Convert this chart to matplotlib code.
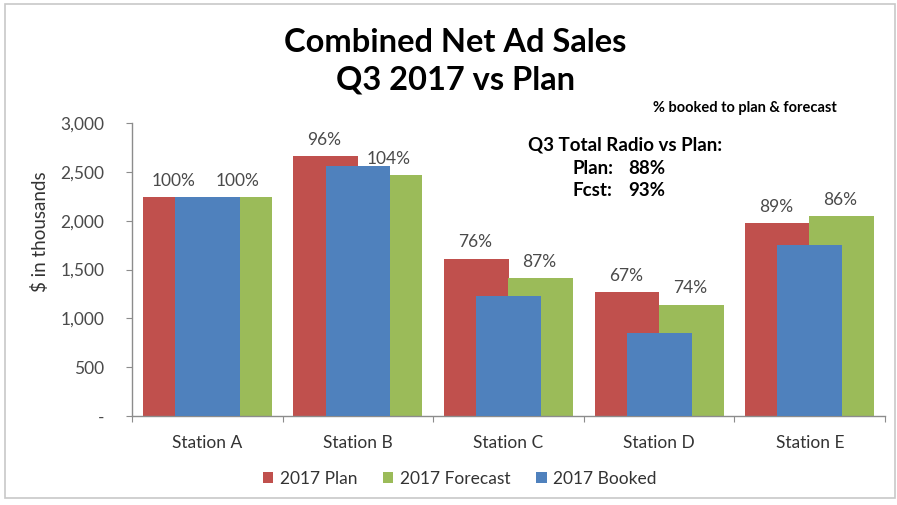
import matplotlib.pyplot as plt
import numpy as np
from matplotlib.patches import Rectangle
from matplotlib.ticker import FuncFormatter

plt.rcParams['font.family'] = ['Lato', 'DejaVu Sans']

# Q3 2017 net ad sales, $ in thousands
stations = ["Station A", "Station B", "Station C", "Station D", "Station E"]
plan = [2240, 2660, 1610, 1265, 1975]
forecast = [2240, 2465, 1410, 1140, 2045]
booked = [2240, 2555, 1225, 848, 1755]

total_plan_pct = 88
total_fcst_pct = 93

RED = "#C0504D"
GREEN = "#9BBB59"
BLUE = "#4F81BD"
AXIS_GRAY = "#8C8C8C"
TEXT_GRAY = "#4A4A4A"

fig = plt.figure(figsize=(8.97, 5.05), dpi=100)
ax = fig.add_axes([0.1472, 0.1762, 0.8395, 0.5802])

x = np.arange(len(stations))
OFFSET = 0.213
WIDTH = 0.43

plan_bars = ax.bar(x - OFFSET, plan, WIDTH, color=RED, label="2017 Plan", zorder=2)
fcst_bars = ax.bar(x + OFFSET, forecast, WIDTH, color=GREEN, label="2017 Forecast", zorder=2)
booked_bars = ax.bar(x, booked, WIDTH, color=BLUE, label="2017 Booked", zorder=3)

# booked as a share of plan (over red bars) and of forecast (over green bars)
for bars, ref in ((plan_bars, plan), (fcst_bars, forecast)):
    for rect, r, b in zip(bars, ref, booked):
        pct = round(100 * b / r)
        ax.annotate(f"{pct}%", (rect.get_x() + rect.get_width() / 2, rect.get_height()),
                    xytext=(-1, 6), textcoords="offset points", ha="center", va="bottom",
                    fontsize=12.5, color=TEXT_GRAY, zorder=4)

ax.set_xlim(-0.5, len(stations) - 0.5)
ax.set_ylim(0, 3000)
ax.set_yticks(np.arange(0, 3001, 500))
ax.yaxis.set_major_formatter(FuncFormatter(lambda v, _: "-" if v == 0 else f"{int(v):,}"))

# category boundaries get the tick marks, centres get the names
ax.set_xticks(np.arange(-0.5, len(stations), 1))
ax.set_xticklabels([])
ax.set_xticks(x, minor=True)
ax.set_xticklabels(stations, minor=True)
ax.tick_params(axis="x", which="minor", length=0, pad=14, labelsize=12.5, labelcolor="#333333")
ax.tick_params(axis="x", which="major", length=4, direction="out", color=AXIS_GRAY)
ax.tick_params(axis="y", length=4, direction="out", color=AXIS_GRAY, pad=16,
               labelsize=12.5, labelcolor=TEXT_GRAY)

for side in ("top", "right"):
    ax.spines[side].set_visible(False)
for side in ("left", "bottom"):
    ax.spines[side].set_color(AXIS_GRAY)
    ax.spines[side].set_linewidth(1)

fig.text(40 / 897, 1 - 232 / 505, "$ in thousands", rotation=90, ha="center", va="center",
         fontsize=13.5, color="#333333")

fig.text(0.5078, 1 - 52 / 505, "Combined Net Ad Sales", ha="center", va="baseline",
         fontsize=23.5, fontweight="bold", color="black")
fig.text(0.5078, 1 - 90 / 505, "Q3 2017 vs Plan", ha="center", va="baseline",
         fontsize=23.5, fontweight="bold", color="black")

fig.text(653 / 897, 1 - 108 / 505, "% booked to plan & forecast", ha="left", va="center",
         fontsize=10.5, fontweight="bold", color="black")
fig.text(528 / 897, 1 - 145 / 505, "Q3 Total Radio vs Plan:", ha="left", va="center",
         fontsize=13.5, fontweight="bold", color="black")
fig.text(572 / 897, 1 - 168 / 505, "Plan:", ha="left", va="center",
         fontsize=13.5, fontweight="bold", color="black")
fig.text(628 / 897, 1 - 168 / 505, f"{total_plan_pct}%", ha="left", va="center",
         fontsize=13.5, fontweight="bold", color="black")
fig.text(572 / 897, 1 - 191 / 505, "Fcst:", ha="left", va="center",
         fontsize=13.5, fontweight="bold", color="black")
fig.text(628 / 897, 1 - 191 / 505, f"{total_fcst_pct}%", ha="left", va="center",
         fontsize=13.5, fontweight="bold", color="black")

fig.legend(handles=[plan_bars, fcst_bars, booked_bars], loc="center",
           bbox_to_anchor=(460 / 897, 1 - 479 / 505), ncol=3, frameon=False,
           fontsize=12.5, handlelength=0.6, handleheight=0.6, handletextpad=0.4,
           columnspacing=1.45, labelcolor="#333333")

# thin frame round the whole chart
fig.patches.append(Rectangle((5 / 897, 7 / 505), 890 / 897, 494 / 505,
                             transform=fig.transFigure, fill=False,
                             edgecolor="#C8C8C8", linewidth=1.2))

fig.savefig("out.png", dpi=100)
